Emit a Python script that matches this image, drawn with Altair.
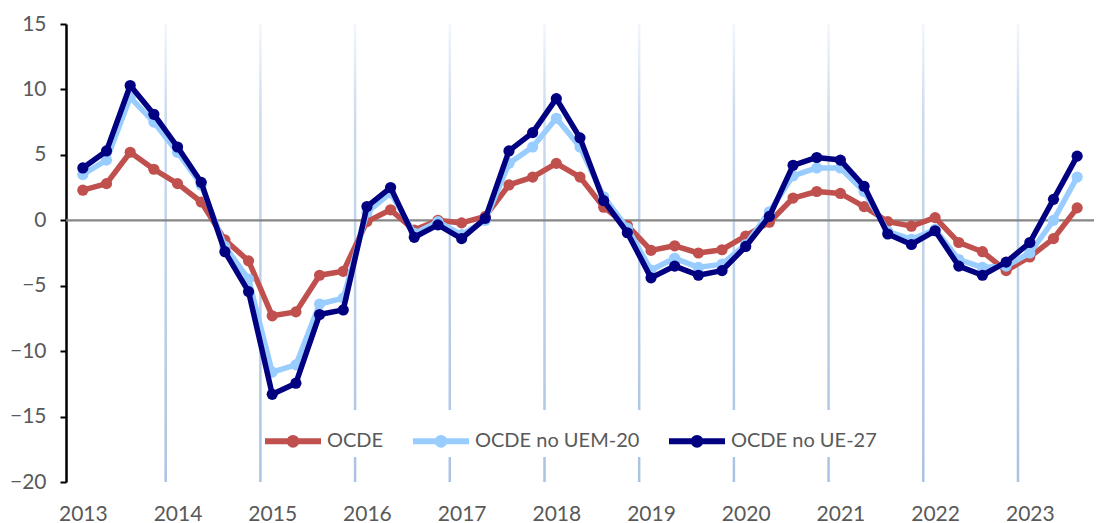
import altair as alt
import pandas as pd

years = [2013, 2014, 2015, 2016, 2017, 2018, 2019, 2020, 2021, 2022, 2023]
series_names = ["OCDE", "OCDE no UEM-20", "OCDE no UE-27"]
series_colors = ["#C0504D", "#99CCFF", "#000080"]

ocde = [2.3, 2.8, 5.2, 3.9, 2.8, 1.4, -1.5, -3.1, -7.3, -7.0, -4.2, -3.9,
        -0.1, 0.8, -0.75, 0.0, -0.2, 0.3, 2.7, 3.3, 4.35, 3.3, 1.0, -0.4,
        -2.3, -1.95, -2.5, -2.25, -1.2, -0.15, 1.7, 2.2, 2.05, 1.05, -0.1, -0.45,
        0.2, -1.7, -2.4, -3.85, -2.8, -1.4, 0.95]
ocde_uem20 = [3.5, 4.6, 9.4, 7.5, 5.2, 2.7, -2.0, -4.5, -11.6, -11.05, -6.4, -5.95,
              0.6, 2.1, -1.0, -0.1, -1.1, 0.0, 4.35, 5.6, 7.8, 5.6, 1.8, -0.6,
              -3.8, -2.9, -3.6, -3.35, -1.85, 0.65, 3.4, 4.0, 4.0, 2.2, -0.85, -1.45,
              -0.7, -3.0, -3.6, -3.5, -2.5, 0.0, 3.3]
ocde_ue27 = [4.0, 5.3, 10.3, 8.1, 5.6, 2.9, -2.4, -5.45, -13.3, -12.45, -7.2, -6.85,
             1.05, 2.5, -1.3, -0.35, -1.4, 0.15, 5.3, 6.7, 9.3, 6.3, 1.5, -0.95,
             -4.4, -3.5, -4.2, -3.85, -2.0, 0.3, 4.2, 4.8, 4.6, 2.6, -1.05, -1.85,
             -0.8, -3.5, -4.2, -3.2, -1.7, 1.6, 4.9]

# quarters 2013Q1 .. 2023Q3
quarters = [f"{y}Q{q}" for y in years for q in range(1, 5)][: len(ocde)]

rows = []
for name, vals in zip(series_names, [ocde, ocde_uem20, ocde_ue27]):
    for i, (qlab, v) in enumerate(zip(quarters, vals)):
        rows.append({"idx": i, "quarter": qlab, "serie": name, "valor": v})
df = pd.DataFrame(rows)

# year separators sit between Q4 and Q1
sep_df = pd.DataFrame({"pos": [4 * k - 0.5 for k in range(1, len(years))]})

FONT = "Lato"
AXIS_FS = 21
x_scale = alt.Scale(domain=[-0.5, len(ocde) - 0.5], nice=False, zero=False)
y_scale = alt.Scale(domain=[-20, 15], nice=False)

color_scale = alt.Scale(domain=series_names, range=series_colors)
legend_symbol = "M-1,0L1,0M-0.12,0a0.12,0.12 0 1,0 0.24,0a0.12,0.12 0 1,0 -0.24,0"
legend = alt.Legend(
    title=None,
    orient="none",
    direction="horizontal",
    legendX=196,
    legendY=386,
    symbolType=legend_symbol,
    symbolSize=3136,
    symbolStrokeWidth=6,
    labelFont=FONT,
    labelFontSize=20,
    labelColor="#595959",
    labelLimit=400,
    labelOffset=3,
    columnPadding=17,
    fillColor="white",
    padding=0,
)

grid = alt.Chart(sep_df).mark_bar(
    size=2.5,
    color=alt.Gradient(
        gradient="linear",
        stops=[
            alt.GradientStop(color="#f3f7fc", offset=0),
            alt.GradientStop(color="#cbdaee", offset=0.2),
            alt.GradientStop(color="#aac3e3", offset=1),
        ],
        x1=0, x2=0, y1=0, y2=1,
    ),
).encode(
    x=alt.X("pos:Q", scale=x_scale),
    y=alt.datum(15, scale=y_scale),
    y2=alt.datum(-20),
)

zero = alt.Chart(pd.DataFrame({"z": [0]})).mark_rule(color="#868686", strokeWidth=2.2).encode(
    y=alt.Y("z:Q", scale=y_scale)
)

layers = [grid, zero]
for name in series_names:
    base = alt.Chart(df).transform_filter(alt.datum.serie == name)
    enc = dict(
        x=alt.X(
            "idx:Q",
            scale=x_scale,
            axis=alt.Axis(
                title=None,
                values=list(range(0, len(ocde), 4)),
                labelExpr="2013 + datum.value / 4",
                domain=False,
                ticks=False,
                grid=False,
                labelFont=FONT,
                labelFontSize=AXIS_FS,
                labelColor="#595959",
                labelPadding=21,
            ),
        ),
        y=alt.Y(
            "valor:Q",
            scale=y_scale,
            axis=alt.Axis(
                title=None,
                values=[-20, -15, -10, -5, 0, 5, 10, 15],
                grid=False,
                domainColor="black",
                domainWidth=2.5,
                tickColor="black",
                tickWidth=2,
                tickSize=6,
                labelFont=FONT,
                labelFontSize=AXIS_FS,
                labelColor="#595959",
                labelPadding=14,
            ),
        ),
        color=alt.Color("serie:N", scale=color_scale, legend=legend),
        order=alt.Order("idx:Q"),
    )
    line = base.mark_line(strokeWidth=5.5, strokeJoin="round", strokeCap="round").encode(**enc)
    pts = base.mark_point(filled=True, size=125, opacity=1, shape="circle").encode(**enc)
    layers += [line, pts]

chart = alt.layer(*layers).properties(
    width=1028,
    height=458,
    autosize=alt.AutoSizeParams(type="none"),
    padding={"left": 58, "top": 16, "right": 3, "bottom": 41},
).configure_view(stroke=None)

chart.save("out.html", embed_options={"renderer": "svg", "actions": False})
